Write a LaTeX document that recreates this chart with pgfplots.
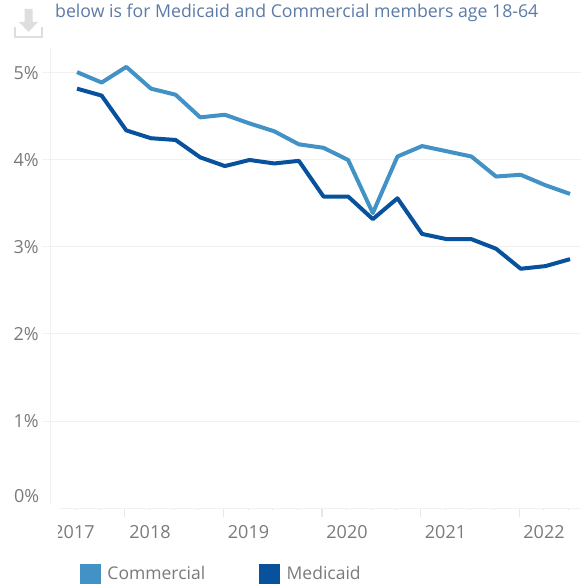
\documentclass[border=0pt]{standalone}
\usepackage{fontspec}
\setmainfont{Open Sans}
\usepackage{pgfplots}
\pgfplotsset{compat=1.18}

\definecolor{commercial}{HTML}{4292C6}
\definecolor{medicaid}{HTML}{08519C}
\definecolor{gridc}{HTML}{F1F1F1}
\definecolor{tickc}{HTML}{E6E6E6}
\definecolor{labelc}{HTML}{7A7A7A}
\definecolor{titlec}{HTML}{5B7BA6}
\definecolor{iconc}{HTML}{DEDEDE}

\begin{document}
\begin{tikzpicture}
\useasboundingbox (0pt,0pt) rectangle (581pt,-586pt);

\begin{axis}[
    at={(50.5pt,-508pt)},
    anchor=south west,
    scale only axis,
    width=530.5pt,
    height=460pt,
    xmin=-1.075, xmax=20.446,
    ymin=0, ymax=5.287,
    axis line style={draw=none},
    tick align=outside,
    xtick pos=lower,
    ytick pos=left,
    ytick={1,2,3,4,5},
    yticklabels={1\%,2\%,3\%,4\%,5\%},
    ymajorgrids,
    grid style={gridc, line width=1pt},
    major tick length=8.5pt,
    minor tick length=2pt,
    ytick style={gridc, line width=1pt},
    yticklabel style={font=\fontsize{18}{18}\selectfont, text=labelc, inner sep=0pt, xshift=-3pt},
    extra y ticks={0},
    extra y tick labels={0\%},
    extra y tick style={
        major tick length=0pt,
        ymajorgrids=false,
        yticklabel style={xshift=-8pt, yshift=12pt},
    },
    xtick={1.94,5.94,9.94,13.94,17.94},
    xticklabels={},
    minor xtick={-0.06,0.94,2.94,3.94,4.94,6.94,7.94,8.94,10.94,11.94,12.94,14.94,15.94,16.94,18.94,19.94},
    xtick style={tickc, line width=1.2pt},
    minor x tick style={tickc, line width=0.8pt},
    legend style={
        at={(29.5pt,-76pt)}, anchor=south west,
        draw=none, fill=none, inner sep=0pt, outer sep=0pt,
        font=\fontsize{17.5}{17.5}\selectfont, text=labelc,
        legend columns=2,
        /tikz/every even column/.append style={column sep=52pt},
        /tikz/every odd column/.append style={column sep=5pt},
    },
    legend image code/.code={
        \fill[#1, draw=none] (0pt,-10.5pt) rectangle (20.5pt,10pt);
    },
]

\addplot[commercial, line width=4pt, line join=round] coordinates {
    (0,5.01) (1,4.89) (2,5.07) (3,4.82) (4,4.75) (5,4.49) (6,4.52)
    (7,4.42) (8,4.33) (9,4.18) (10,4.14) (11,4.00) (12,3.39) (13,4.04)
    (14,4.16) (15,4.10) (16,4.04) (17,3.81) (18,3.83) (19,3.71) (20,3.61)
};
\addlegendentry{Commercial}

\addplot[medicaid, line width=4pt, line join=round] coordinates {
    (0,4.82) (1,4.74) (2,4.34) (3,4.25) (4,4.23) (5,4.03) (6,3.93)
    (7,4.00) (8,3.96) (9,3.99) (10,3.58) (11,3.58) (12,3.32) (13,3.56)
    (14,3.15) (15,3.09) (16,3.09) (17,2.98) (18,2.75) (19,2.78) (20,2.86)
};
\addlegendentry{Medicaid}

\end{axis}

% decoration, picture in px with y going down
\begin{scope}[x=1pt,y=-1pt]
    \draw[gridc, line width=1pt] (50.5,48) -- (50.5,505);
    \draw[gridc, line width=1pt] (59,508.3) -- (581,508.3);

    % year labels sit in the middle of the year band
    \foreach \xx/\yr in {74/2017,150/2018,248.5/2019,347/2020,445.5/2021,544/2022}
        \node[font=\fontsize{18}{18}\selectfont, text=labelc, inner sep=0pt] at (\xx,532) {\yr};
    % 2017 is cut off at the left edge of the pane
    \fill[white] (40,518) rectangle (58,546);

    \node[anchor=base west, inner sep=0pt, font=\fontsize{17.7}{17.7}\selectfont, text=titlec] at (55,17.8) {below is for Medicaid and Commercial members age 18-64};

    % download icon
    \fill[iconc] (24.5,9) rectangle (32.5,22) -- (38,22) -- (28.5,32) -- (19,22) -- (24.5,22) -- cycle;
    \draw[iconc, line width=2pt] (14.5,27.5) -- (14.5,37.5) -- (41.5,37.5) -- (41.5,27.5);
\end{scope}
\end{tikzpicture}
\end{document}
